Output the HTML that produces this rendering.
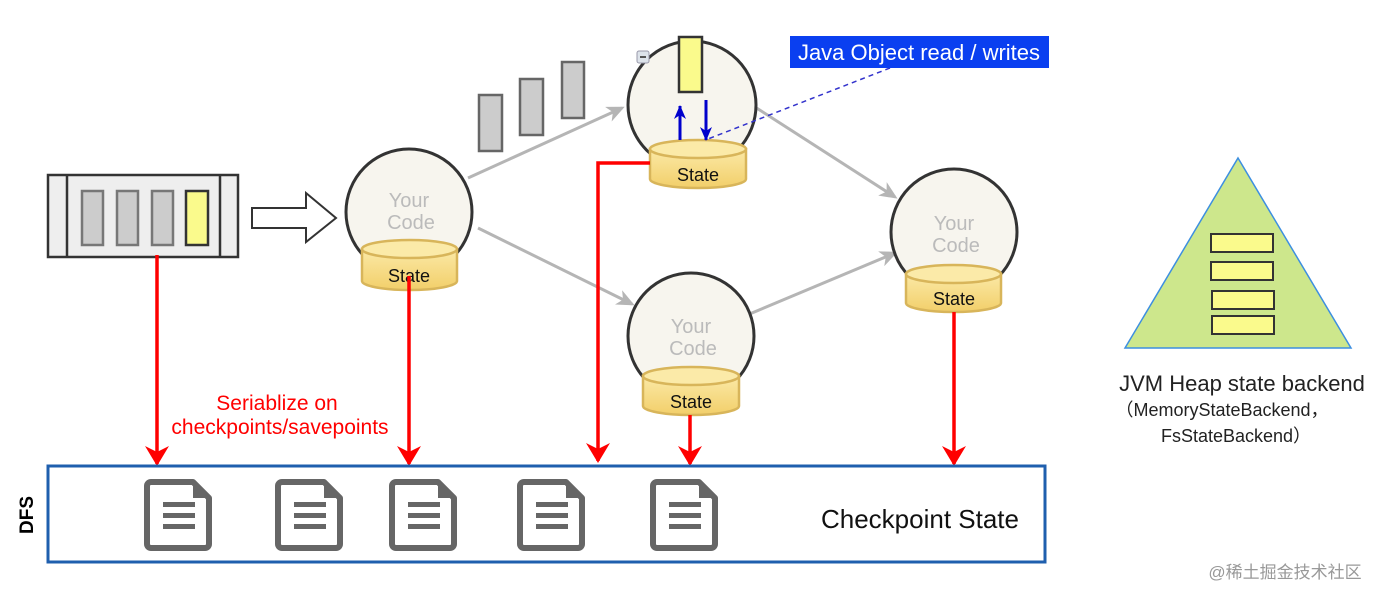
<!DOCTYPE html>
<html><head><meta charset="utf-8"><style>
html,body{margin:0;padding:0;background:#fff;}
svg{display:block;font-family:"Liberation Sans","Noto Sans CJK SC",sans-serif;}
</style></head><body>
<svg width="1384" height="600" viewBox="0 0 1384 600" xmlns="http://www.w3.org/2000/svg">
<defs>
<linearGradient id="cy" x1="0" y1="0" x2="0" y2="1"><stop offset="0" stop-color="#fbe9a6"/><stop offset="1" stop-color="#f2cf6a"/></linearGradient>
<marker id="ga" markerWidth="18" markerHeight="16" refX="15" refY="8" orient="auto" markerUnits="userSpaceOnUse" viewBox="0 0 18 16"><path d="M0,0 L18,8 L0,16 L5,8 z" fill="#b5b5b5"/></marker>
<marker id="ra" markerWidth="24" markerHeight="20" refX="12" refY="18" orient="0" markerUnits="userSpaceOnUse"><path d="M0,0 L12,6 L24,0 L12,20 z" fill="#f00"/></marker>
<marker id="ba" markerWidth="12" markerHeight="14" refX="6" refY="1" orient="0" markerUnits="userSpaceOnUse"><path d="M0,14 L6,0 L12,14 L6,10 z" fill="#0000cc"/></marker>
<marker id="bd" markerWidth="12" markerHeight="14" refX="6" refY="13" orient="0" markerUnits="userSpaceOnUse"><path d="M0,0 L6,14 L12,0 L6,4 z" fill="#0000cc"/></marker>
<g id="doc"><path d="M-29,-32 h42 l16,16 v46 a4,4 0 0 1 -4,4 h-54 a4,4 0 0 1 -4,-4 v-58 a4,4 0 0 1 4,-4 z" fill="#fff" stroke="#666" stroke-width="6" stroke-linejoin="round"/><path d="M13,-32 v16 h16 z" fill="#666"/><rect x="-17" y="-12" width="32" height="5" fill="#666"/><rect x="-17" y="-1" width="32" height="5" fill="#666"/><rect x="-17" y="10" width="32" height="5" fill="#666"/></g>
</defs>

<g stroke="#b5b5b5" stroke-width="3" fill="none" marker-end="url(#ga)">
<line x1="468" y1="178" x2="622" y2="108"/>
<line x1="478" y1="228" x2="632" y2="304"/>
<line x1="755" y1="107" x2="895" y2="197"/>
<line x1="740" y1="318" x2="895" y2="253"/>
</g>

<rect x="48" y="175" width="190" height="82" fill="#eee" stroke="#333" stroke-width="2.5"/>
<line x1="67" y1="175" x2="67" y2="257" stroke="#333" stroke-width="2.5"/>
<line x1="220" y1="175" x2="220" y2="257" stroke="#333" stroke-width="2.5"/>
<g stroke="#777" stroke-width="2.5" fill="#ccc"><rect x="82" y="191" width="21" height="54"/><rect x="117" y="191" width="21" height="54"/><rect x="152" y="191" width="21" height="54"/></g>
<rect x="186" y="191" width="22" height="54" fill="#fafa8c" stroke="#333" stroke-width="2.5"/>
<path d="M252,208 H306 V193 L336,218 L306,242 V228 H252 Z" fill="#fff" stroke="#333" stroke-width="2"/>

<g stroke="#666" stroke-width="2.5" fill="#ccc"><rect x="479" y="95" width="23" height="56"/><rect x="520" y="79" width="23" height="56"/><rect x="562" y="62" width="22" height="56"/></g>

<g fill="#f7f5ee" stroke="#333" stroke-width="3">
<circle cx="409" cy="212" r="63"/><circle cx="692" cy="105" r="64"/><circle cx="691" cy="336" r="63"/><circle cx="954" cy="232" r="63"/>
</g>
<g fill="#bbb" font-size="20" text-anchor="middle">
<text x="409" y="207">Your</text><text x="411" y="229">Code</text>
<text x="691" y="333">Your</text><text x="693" y="355">Code</text>
<text x="954" y="230">Your</text><text x="956" y="252">Code</text>
</g>

<g stroke="#d8b55a" stroke-width="2.5">
<path d="M362,249 V281 A47.5,9 0 0 0 457,281 V249 Z" fill="url(#cy)"/><ellipse cx="409.5" cy="249" rx="47.5" ry="9" fill="#fbeaa8"/>
<path d="M650,149 V179 A48,9 0 0 0 746,179 V149 Z" fill="url(#cy)"/><ellipse cx="698" cy="149" rx="48" ry="9" fill="#fbeaa8"/>
<path d="M643,376 V406 A48,9 0 0 0 739,406 V376 Z" fill="url(#cy)"/><ellipse cx="691" cy="376" rx="48" ry="9" fill="#fbeaa8"/>
<path d="M906,274 V303 A47.5,9 0 0 0 1001,303 V274 Z" fill="url(#cy)"/><ellipse cx="953.5" cy="274" rx="47.5" ry="9" fill="#fbeaa8"/>
</g>
<g font-size="18" text-anchor="middle" fill="#111">
<text x="409" y="282">State</text><text x="698" y="181">State</text><text x="691" y="408">State</text><text x="954" y="305">State</text>
</g>

<rect x="679" y="37" width="23" height="55" fill="#fafa8c" stroke="#333" stroke-width="2.5"/>
<rect x="637" y="51" width="12" height="12" rx="2" fill="#dde3ea" stroke="#99a" stroke-width="1"/><line x1="640" y1="57" x2="646" y2="57" stroke="#555" stroke-width="2"/>
<line x1="680" y1="140" x2="680" y2="106" stroke="#0000cc" stroke-width="3" marker-end="url(#ba)"/>
<line x1="706" y1="100" x2="706" y2="140" stroke="#0000cc" stroke-width="3" marker-end="url(#bd)"/>
<line x1="890" y1="68" x2="708" y2="139" stroke="#3333cc" stroke-width="1.5" stroke-dasharray="5,4"/>
<rect x="790" y="36" width="259" height="32" fill="#0a3ff0"/>
<text x="919" y="60" font-size="22" fill="#fff" text-anchor="middle">Java Object read / writes</text>

<g stroke="#f00" stroke-width="3.5" fill="none" marker-end="url(#ra)">
<line x1="157" y1="255" x2="157" y2="464"/>
<line x1="409" y1="276" x2="409" y2="464"/>
<polyline points="650,163 598,163 598,461"/>
<line x1="690" y1="415" x2="690" y2="464"/>
<line x1="954" y1="312" x2="954" y2="464"/>
</g>
<g fill="#f00" font-size="21" text-anchor="middle"><text x="277" y="410">Seriablize on</text><text x="280" y="434">checkpoints/savepoints</text></g>

<rect x="48" y="466" width="997" height="96" fill="none" stroke="#1f5fae" stroke-width="3"/>
<text transform="translate(33,515) rotate(-90)" font-size="19" font-weight="bold" text-anchor="middle">DFS</text>
<use href="#doc" x="180" y="514"/><use href="#doc" x="311" y="514"/><use href="#doc" x="425" y="514"/><use href="#doc" x="553" y="514"/><use href="#doc" x="686" y="514"/>
<text x="920" y="528" font-size="26" text-anchor="middle" fill="#111">Checkpoint State</text>

<path d="M1238,158 L1351,348 L1125,348 Z" fill="#cde78c" stroke="#3d8fe0" stroke-width="1.5"/>
<g fill="#fafa8c" stroke="#333" stroke-width="2"><rect x="1211" y="234" width="62" height="18"/><rect x="1211" y="262" width="62" height="18"/><rect x="1212" y="291" width="62" height="18"/><rect x="1212" y="316" width="62" height="18"/></g>
<text x="1242" y="391" font-size="22" text-anchor="middle" fill="#222">JVM Heap state backend</text>
<text x="1222" y="416" font-size="18" text-anchor="middle" fill="#222">（MemoryStateBackend，</text>
<text x="1236" y="442" font-size="18" text-anchor="middle" fill="#222">FsStateBackend）</text>
<text x="1285" y="578" font-size="17" text-anchor="middle" fill="#999">@稀土掘金技术社区</text>
</svg>
</body></html>
